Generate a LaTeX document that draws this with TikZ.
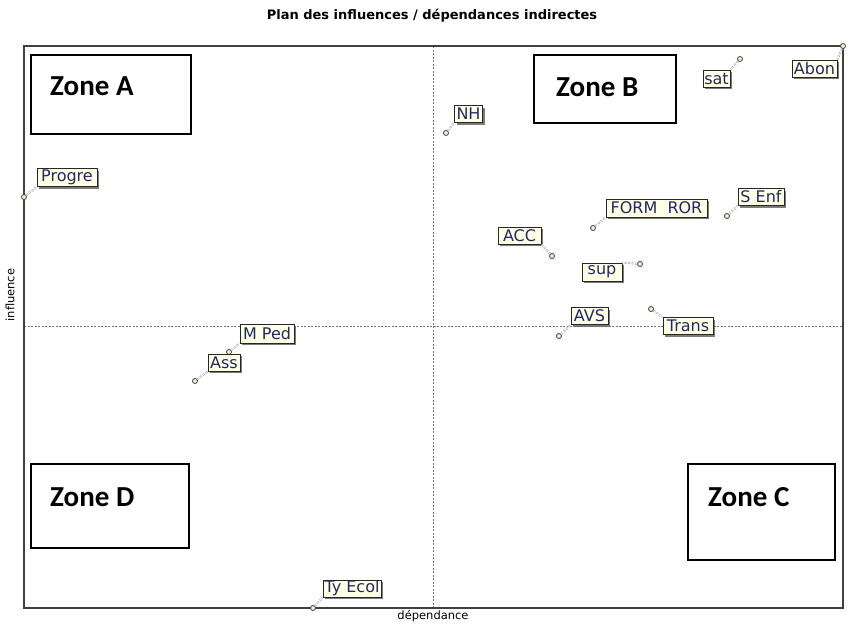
\documentclass[tikz,border=0pt]{standalone}
\usepackage{fontspec}
\setmainfont{DejaVu Sans}
\newfontfamily\zonefont{Carlito}
\usetikzlibrary{shadows}
\definecolor{lblfill}{HTML}{FFFFE6}
\definecolor{lbltext}{HTML}{1E2A66}
\definecolor{ptfill}{HTML}{F2F2D0}
\tikzset{
  frame/.style={draw=black!75, line width=1.1pt},
  midline/.style={draw=black!55, line width=0.6pt, dash pattern=on 2pt off 1.5pt},
  zonebox/.style={draw=black, line width=1.4pt, fill=white},
  zonetext/.style={font=\zonefont\bfseries\fontsize{29}{31}\selectfont, anchor=west, inner sep=0pt},
  lbl/.style={draw=black!85, line width=0.9pt, fill=lblfill, text=lbltext, inner sep=0pt,
    font=\fontsize{16}{17}\selectfont,
    drop shadow={shadow xshift=2pt, shadow yshift=-2pt, fill=black!60, opacity=0.85}},
  pt/.style={circle, draw=black!75, line width=0.8pt, fill=ptfill, minimum size=5pt, inner sep=0pt},
  conn/.style={draw=black!35, line width=0.7pt, dash pattern=on 2pt off 1.5pt, double=white, double distance=0.6pt}
}
\newcommand{\lab}[7]{%
  \node[pt] (p#1) at (#2) {};
  \node[lbl, minimum width=#4pt, minimum height=#5pt] (#1) at (#3) {#6};
  \draw[conn] (p#1) -- (#1.#7);
}
\begin{document}
\begin{tikzpicture}[x=1pt,y=-1pt]
\useasboundingbox (0,0) rectangle (848,624);
\fill[white] (0,0) rectangle (848,624);
% title
\node[font=\bfseries\fontsize{13}{15}\selectfont] (title) at (432,16) {Plan des influences / dépendances indirectes};
% axis labels
\node[font=\fontsize{11.5}{12}\selectfont] (xlab) at (433,616) {dépendance};
\node[font=\fontsize{11.5}{12}\selectfont, rotate=90] (ylab) at (10,295) {influence};
% mid lines
\draw[midline] (433,46) -- (433,608);
\draw[midline] (24,326) -- (843,326);
% frame
\draw[frame] (24,46) rectangle (843,608);
% zones
\draw[zonebox] (31,55) rectangle (191,134);
\node[zonetext] (zA) at (50,86) {Zone A};
\draw[zonebox] (534,55) rectangle (676,123);
\node[zonetext] (zB) at (556,87) {Zone B};
\draw[zonebox] (31,464) rectangle (189,548);
\node[zonetext] (zD) at (50,497) {Zone D};
\draw[zonebox] (688,464) rectangle (835,560);
\node[zonetext] (zC) at (708,497) {Zone C};
% labels: name, point, box centre, w, h, text, anchor
\lab{NH}{446,133}{468.5,114}{28}{17}{NH}{south west}
\lab{sat}{740,59}{716.5,78.5}{27}{17}{sat}{north east}
\lab{Abon}{843,46}{814.5,68.5}{45}{17}{Abon}{north east}
\lab{FORM}{593,228}{656.5,208}{101}{18}{FORM\ \ ROR}{south west}
\lab{SEnf}{727,216}{761,197}{46}{17}{S Enf}{south west}
\lab{ACC}{552,256}{519.5,235.5}{43}{17}{ACC}{south east}
\lab{sup}{640,264}{602,272}{40}{18}{sup}{north east}
\lab{AVS}{559,336}{589.5,316}{37}{17}{AVS}{south west}
\lab{Trans}{651,309}{688,326}{50}{17}{Trans}{north west}
\lab{Progre}{24,197}{67,177.5}{60}{18}{Progre}{south west}
\lab{MPed}{229,352}{267,333.5}{54}{19}{M Ped}{south west}
\lab{Ass}{195,381}{224,362.5}{32}{17}{Ass}{south west}
\lab{TyEcol}{313,608}{352,588.5}{58}{17}{Ty Ecol}{south west}
\end{tikzpicture}
\end{document}
